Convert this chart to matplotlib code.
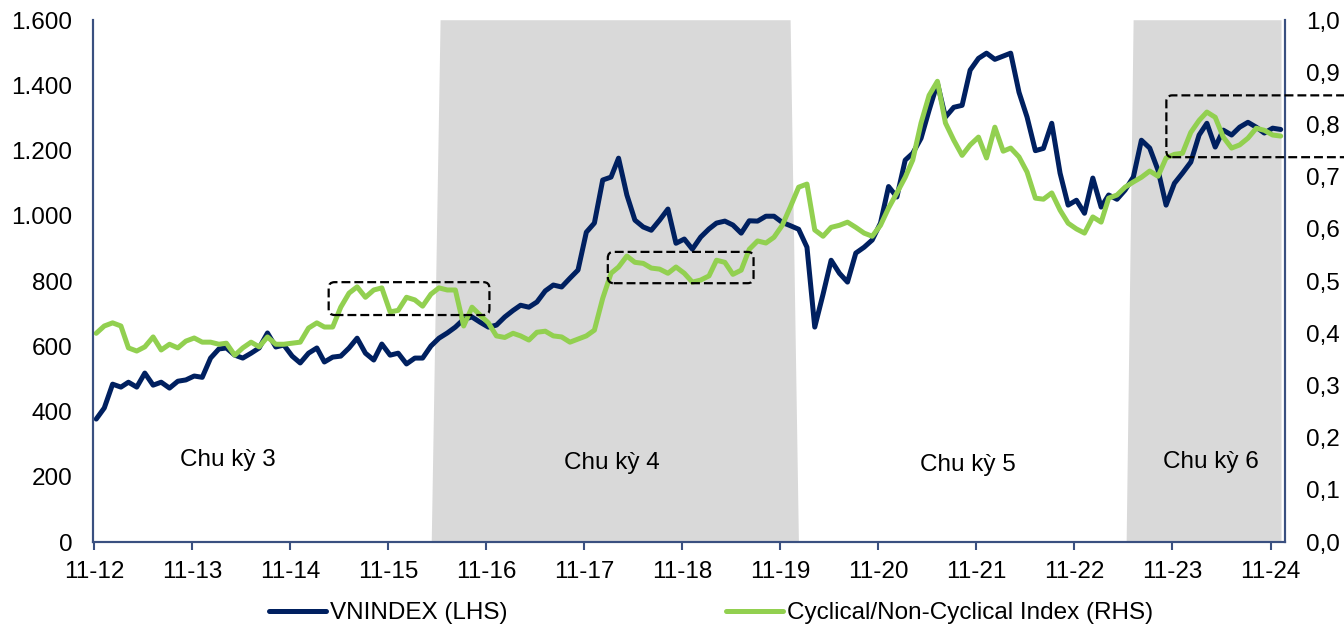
import matplotlib
matplotlib.use("Agg")
import matplotlib.pyplot as plt
import matplotlib.dates as mdates
from matplotlib.patches import FancyBboxPatch
import pandas as pd

plt.rcParams['font.family'] = ['Liberation Sans', 'DejaVu Sans']

# monthly values, Nov 2012 .. Dec 2024
vnindex = [377, 411, 484, 475, 490, 475, 518, 481, 490, 472, 493, 497,
           509, 505, 564, 592, 595, 573, 564, 579, 595, 641, 598, 604,
           570, 549, 579, 595, 552, 567, 570, 595, 625, 579, 558, 607,
           573, 579, 546, 564, 564, 601, 625, 641, 659, 683, 690, 674,
           659, 665, 690, 710, 726, 720, 736, 770, 788, 782, 809, 834,
           950, 978, 1110, 1119, 1177, 1064, 987, 966, 956, 987, 1021, 916,
           929, 898, 935, 960, 978, 984, 972, 947, 985, 984, 999, 999,
           980, 970, 959, 904, 659, 760, 864, 824, 797, 886, 904, 926,
           978, 1090, 1058, 1171, 1192, 1238, 1324, 1407, 1303, 1333, 1339, 1447,
           1483, 1499, 1480, 1490, 1499, 1379, 1303, 1200, 1207, 1284, 1131, 1033,
           1048, 1008, 1116, 1027, 1064, 1051, 1079, 1119, 1232, 1208, 1140, 1033,
           1100, 1131, 1165, 1248, 1284, 1211, 1263, 1248, 1272, 1287, 1272, 1254,
           1269, 1265]
cyclical_ratio = [0.400, 0.414, 0.420, 0.414, 0.372, 0.366, 0.374, 0.393, 0.368, 0.379, 0.372, 0.385,
                  0.391, 0.383, 0.383, 0.379, 0.381, 0.358, 0.372, 0.383, 0.374, 0.393, 0.379, 0.379,
                  0.381, 0.383, 0.410, 0.420, 0.412, 0.412, 0.450, 0.477, 0.489, 0.469, 0.483, 0.487,
                  0.441, 0.444, 0.469, 0.464, 0.452, 0.475, 0.487, 0.483, 0.483, 0.414, 0.450, 0.435,
                  0.420, 0.395, 0.392, 0.400, 0.395, 0.387, 0.402, 0.404, 0.395, 0.393, 0.383, 0.389,
                  0.395, 0.406, 0.467, 0.515, 0.527, 0.548, 0.536, 0.534, 0.525, 0.523, 0.515, 0.527,
                  0.515, 0.498, 0.502, 0.510, 0.540, 0.536, 0.513, 0.521, 0.561, 0.577, 0.573, 0.584,
                  0.607, 0.642, 0.680, 0.686, 0.598, 0.586, 0.603, 0.607, 0.613, 0.603, 0.592, 0.586,
                  0.607, 0.640, 0.669, 0.699, 0.732, 0.803, 0.856, 0.883, 0.803, 0.770, 0.741, 0.761,
                  0.776, 0.736, 0.795, 0.749, 0.755, 0.738, 0.709, 0.659, 0.657, 0.669, 0.636, 0.611,
                  0.600, 0.592, 0.623, 0.613, 0.659, 0.665, 0.680, 0.690, 0.699, 0.711, 0.701, 0.736,
                  0.743, 0.745, 0.785, 0.808, 0.824, 0.814, 0.776, 0.755, 0.761, 0.774, 0.793, 0.789,
                  0.780, 0.778]
months = pd.date_range('2012-11-01', periods=len(vnindex), freq='MS') + pd.Timedelta(days=8)

# shaded cycles: bottom-left, top-left, top-right, bottom-right
shade_cycles = [['2016-04-12', '2016-05-15', '2019-12-10', '2020-01-10'],
                ['2023-05-15', '2023-06-10', '2024-12-12', '2024-12-12']]

cycle_labels = ['Chu kỳ 3', 'Chu kỳ 4', 'Chu kỳ 5', 'Chu kỳ 6']
cycle_label_dates = ['2014-03-15', '2018-02-12', '2021-10-01', '2024-03-25']
cycle_label_values = [251, 242, 236, 245]

# dashed highlight boxes (date range, RHS range)
box_dates = [('2015-03-25', '2016-11-13'), ('2018-01-28', '2019-07-25'), ('2023-10-10', '2026-06-01')]
box_values = [(0.435, 0.498), (0.496, 0.556), (0.7375, 0.856)]

navy = '#002060'
green = '#92D050'
spine_c = '#3A5080'
fs = 17.5

fig = plt.figure(figsize=(13.44, 6.32), dpi=100)
ax = fig.add_axes([0.0692, 0.1424, 0.8869, 0.8256])
ax2 = ax.twinx()

for c in shade_cycles:
    xs = mdates.datestr2num(c)
    ax.fill(xs, [0, 1600, 1600, 0], color='#D9D9D9', lw=0, zorder=0)

l1, = ax.plot(months, vnindex, color=navy, lw=3.6, label='VNINDEX (LHS)',
              solid_joinstyle='round', solid_capstyle='round')
l2, = ax2.plot(months, cyclical_ratio, color=green, lw=3.6,
               label='Cyclical/Non-Cyclical Index (RHS)',
               solid_joinstyle='round', solid_capstyle='round')

for t, d, v in zip(cycle_labels, cycle_label_dates, cycle_label_values):
    ax.text(mdates.datestr2num(d), v, t, ha='center', va='center', fontsize=fs, color='black')

for (d0, d1), (y0, y1) in zip(box_dates, box_values):
    a, b = mdates.datestr2num([d0, d1])
    p = FancyBboxPatch((a, y0), b - a, y1 - y0, boxstyle='round,pad=0,rounding_size=22',
                       mutation_aspect=0.0115 / 22, fill=False, ec='black', lw=1.6,
                       ls=(0, (4, 1.8)), clip_on=False, transform=ax2.transData, zorder=5)
    ax2.add_patch(p)

ax.set_xlim(mdates.datestr2num('2012-10-28'), mdates.datestr2num('2024-12-25'))
ax.set_ylim(0, 1600)
ax2.set_ylim(0, 1.0)

ax.set_yticks(range(0, 1601, 200))
ax.set_yticklabels(['{:,.0f}'.format(v).replace(',', '.') for v in range(0, 1601, 200)])
rticks = [i / 10 for i in range(11)]
ax2.set_yticks(rticks)
ax2.set_yticklabels(['{:.1f}'.format(v).replace('.', ',') for v in rticks])

xt = pd.date_range('2012-11-01', '2024-11-01', freq='12MS')
ax.set_xticks(xt)
ax.xaxis.set_major_formatter(mdates.DateFormatter('%m-%y'))

ax.tick_params(axis='x', length=6, width=1.5, color=spine_c, pad=8, labelsize=fs)
ax.tick_params(axis='y', length=0, pad=15, labelsize=fs)
ax2.tick_params(axis='y', length=0, pad=15, labelsize=fs)

for a_ in (ax, ax2):
    a_.spines['top'].set_visible(False)
    for s in ('left', 'right', 'bottom'):
        a_.spines[s].set_color(spine_c)
        a_.spines[s].set_linewidth(1.5)

fig.legend([l1, l2], [l1.get_label(), l2.get_label()], loc='center', bbox_to_anchor=(0.529, 0.03),
           ncol=2, frameon=False, fontsize=fs, handlelength=2.35, handletextpad=0.15,
           columnspacing=9.0)

fig.savefig('out.png', dpi=100)
